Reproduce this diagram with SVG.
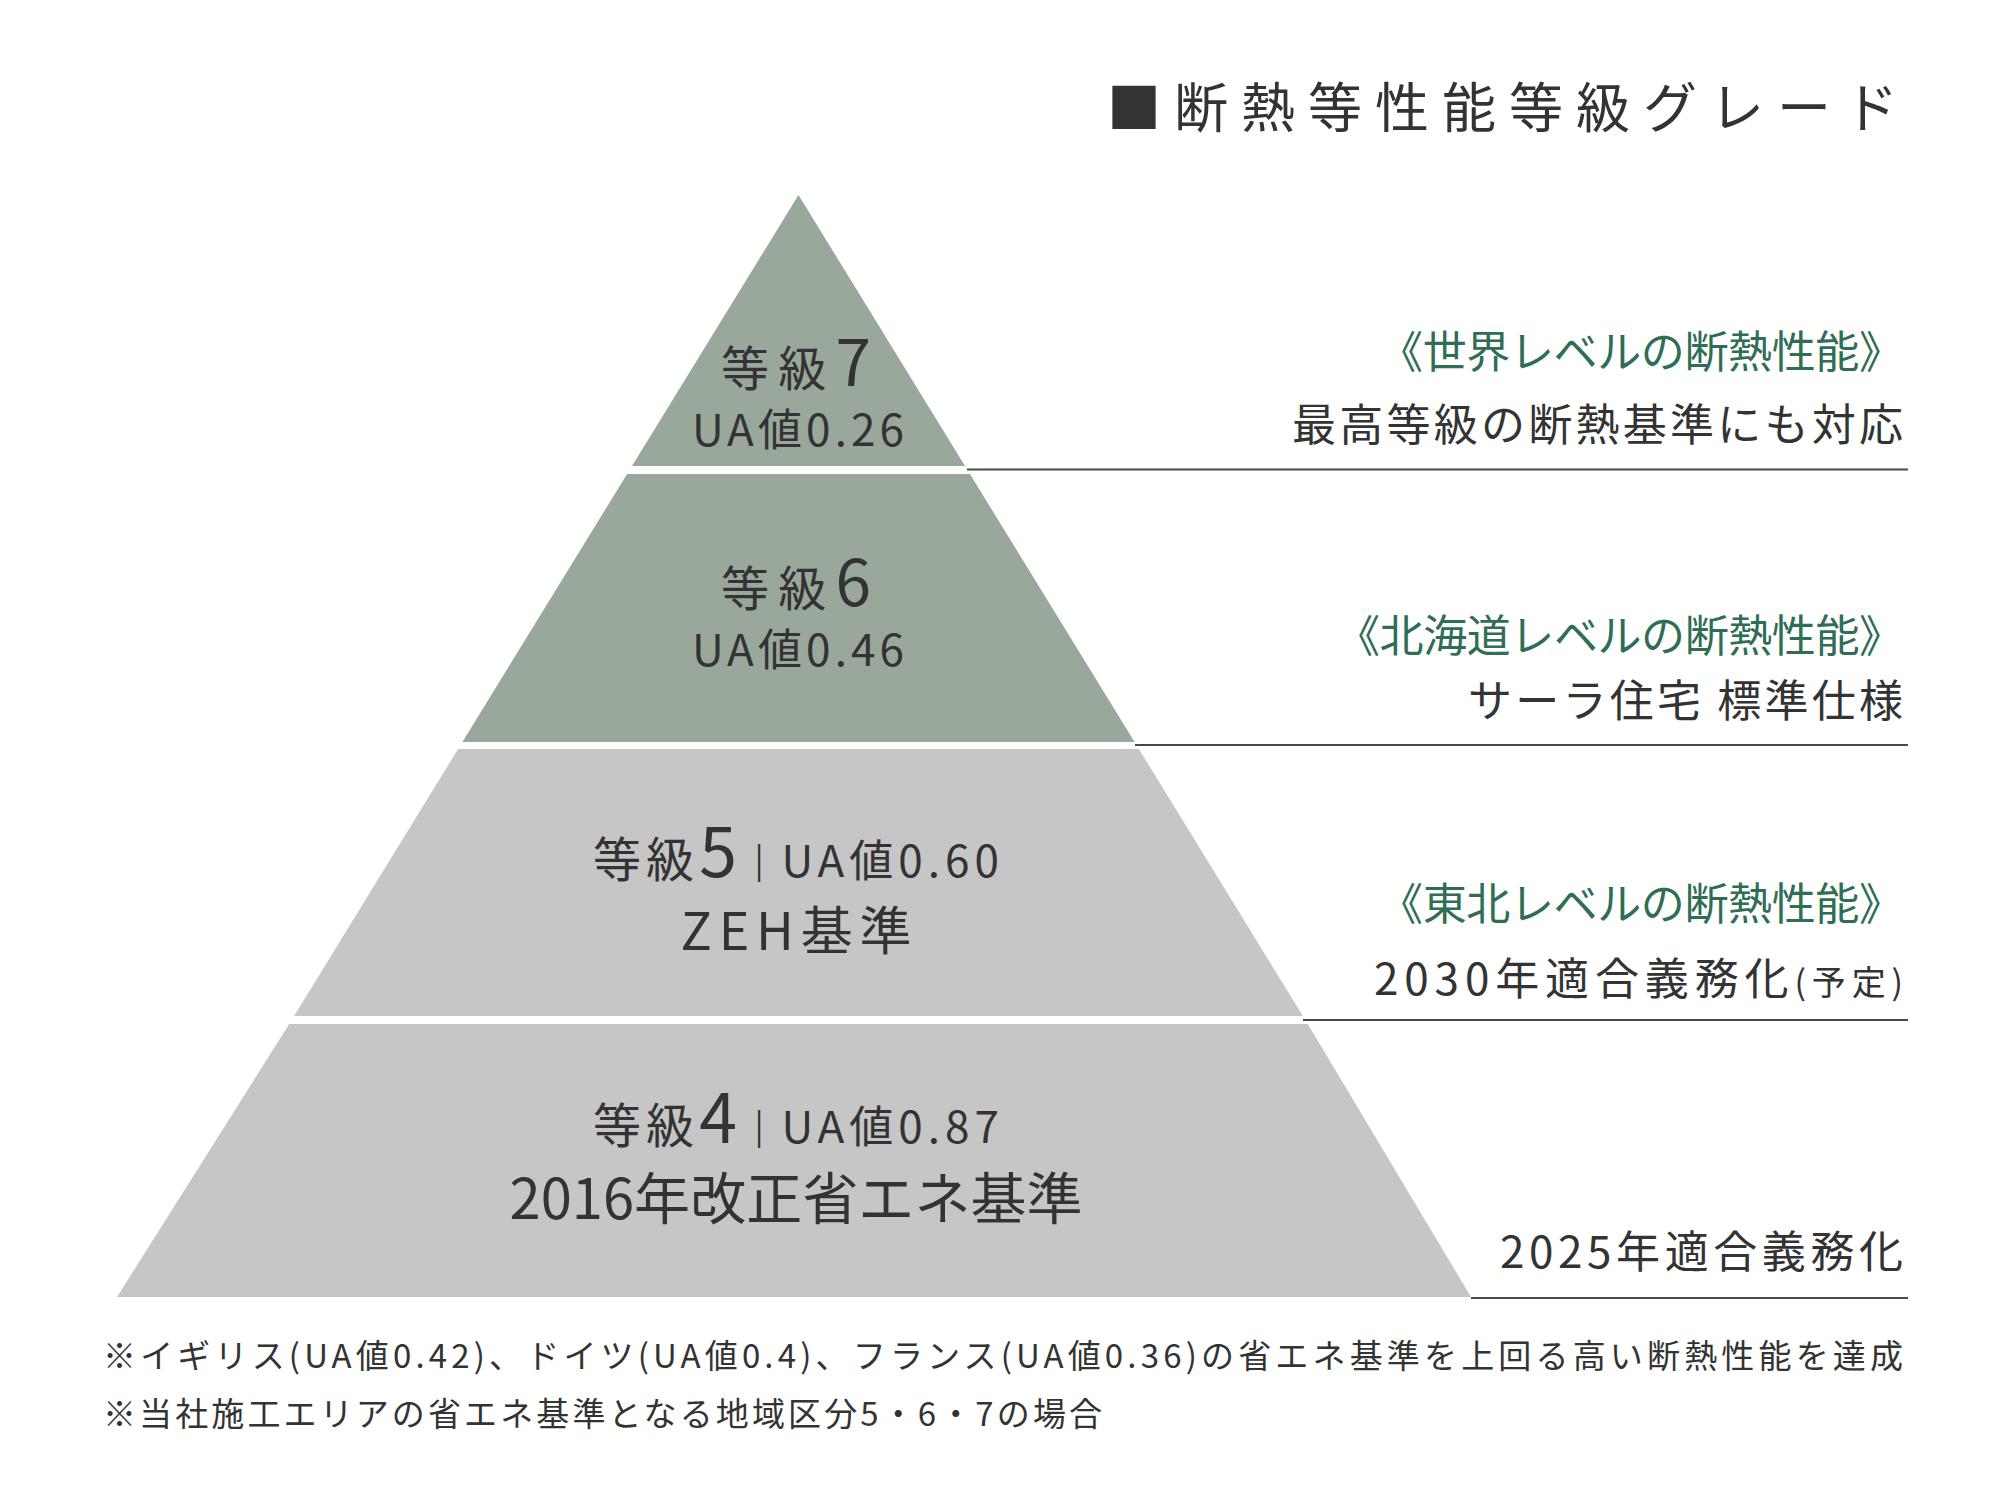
<svg xmlns="http://www.w3.org/2000/svg" width="2013" height="1507" viewBox="0 0 2013 1507">
<style>
text{font-family:"Noto Sans CJK JP","Noto Sans",sans-serif;fill:#333;}
.g{fill:#2f6e55;font-size:44px;text-anchor:end;}
.r{font-size:44px;text-anchor:end;}
.c{text-anchor:middle;}
.ln{stroke:#4a4a4a;stroke-width:2;}
</style>
<rect width="2013" height="1507" fill="#fff"/>
<text x="1898" y="128" font-size="54" text-anchor="end" textLength="791" lengthAdjust="spacing">■断熱等性能等級グレード</text>
<g id="tier7"><polygon points="798.5,195 965,466 632,466" fill="#99a89b"/>
<text class="c" x="796" y="386" font-size="48" textLength="150" lengthAdjust="spacing">等級<tspan font-size="64">7</tspan></text>
<text class="c" x="798" y="446" font-size="44" textLength="212" lengthAdjust="spacing">UA値0.26</text></g>
<g id="tier6"><polygon points="627.1,474 969.9,474 1134.6,742 462.4,742" fill="#99a89b"/>
<text class="c" x="796" y="606" font-size="48" textLength="150" lengthAdjust="spacing">等級<tspan font-size="64">6</tspan></text>
<text class="c" x="798" y="666" font-size="44" textLength="212" lengthAdjust="spacing">UA値0.46</text></g>
<g id="tier5"><polygon points="458.1,749 1138.9,749 1302.9,1016 294.1,1016" fill="#c6c6c6"/>
<text class="c" x="796" y="877" font-size="48" textLength="406" lengthAdjust="spacing">等級<tspan font-size="68">5</tspan><tspan font-size="34" dy="-4"> | </tspan><tspan font-size="44" dy="4">UA値0.60</tspan></text>
<text class="c" x="796" y="950" font-size="52" textLength="231" lengthAdjust="spacing">ZEH基準</text></g>
<g id="tier4"><polygon points="289.2,1024 1307.8,1024 1471,1297 117,1297" fill="#c6c6c6"/>
<text class="c" x="796" y="1143" font-size="48" textLength="406" lengthAdjust="spacing">等級<tspan font-size="68">4</tspan><tspan font-size="34" dy="-4"> | </tspan><tspan font-size="44" dy="4">UA値0.87</tspan></text>
<text class="c" x="796" y="1219" font-size="56" textLength="573" lengthAdjust="spacing">2016年改正省エネ基準</text></g>
<g id="connectors">
<line class="ln" x1="967" y1="469.5" x2="1908" y2="469.5"/>
<line class="ln" x1="1135" y1="745" x2="1908" y2="745"/>
<line class="ln" x1="1303" y1="1020" x2="1908" y2="1020"/>
<line class="ln" x1="1471" y1="1298" x2="1908" y2="1298"/>
</g>
<g id="labels">
<text class="g" x="1903" y="368" textLength="524" lengthAdjust="spacing">《世界レベルの断熱性能》</text>
<text class="r" x="1903" y="441" textLength="611" lengthAdjust="spacing">最高等級の断熱基準にも対応</text>
<text class="g" x="1903" y="652" textLength="567" lengthAdjust="spacing">《北海道レベルの断熱性能》</text>
<text class="r" x="1903" y="717" textLength="435" lengthAdjust="spacing">サーラ住宅 標準仕様</text>
<text class="g" x="1903" y="920" textLength="524" lengthAdjust="spacing">《東北レベルの断熱性能》</text>
<text class="r" x="1903" y="995" textLength="529" lengthAdjust="spacing">2030年適合義務化<tspan font-size="34">(予定)</tspan></text>
<text class="r" x="1903" y="1268" textLength="403" lengthAdjust="spacing">2025年適合義務化</text>
</g>
<text x="103" y="1368" font-size="33" textLength="1800" lengthAdjust="spacing">※イギリス(UA値0.42)、ドイツ(UA値0.4)、フランス(UA値0.36)の省エネ基準を上回る高い断熱性能を達成</text>
<text x="103" y="1426" font-size="33" textLength="999" lengthAdjust="spacing">※当社施工エリアの省エネ基準となる地域区分5・6・7の場合</text>
</svg>
